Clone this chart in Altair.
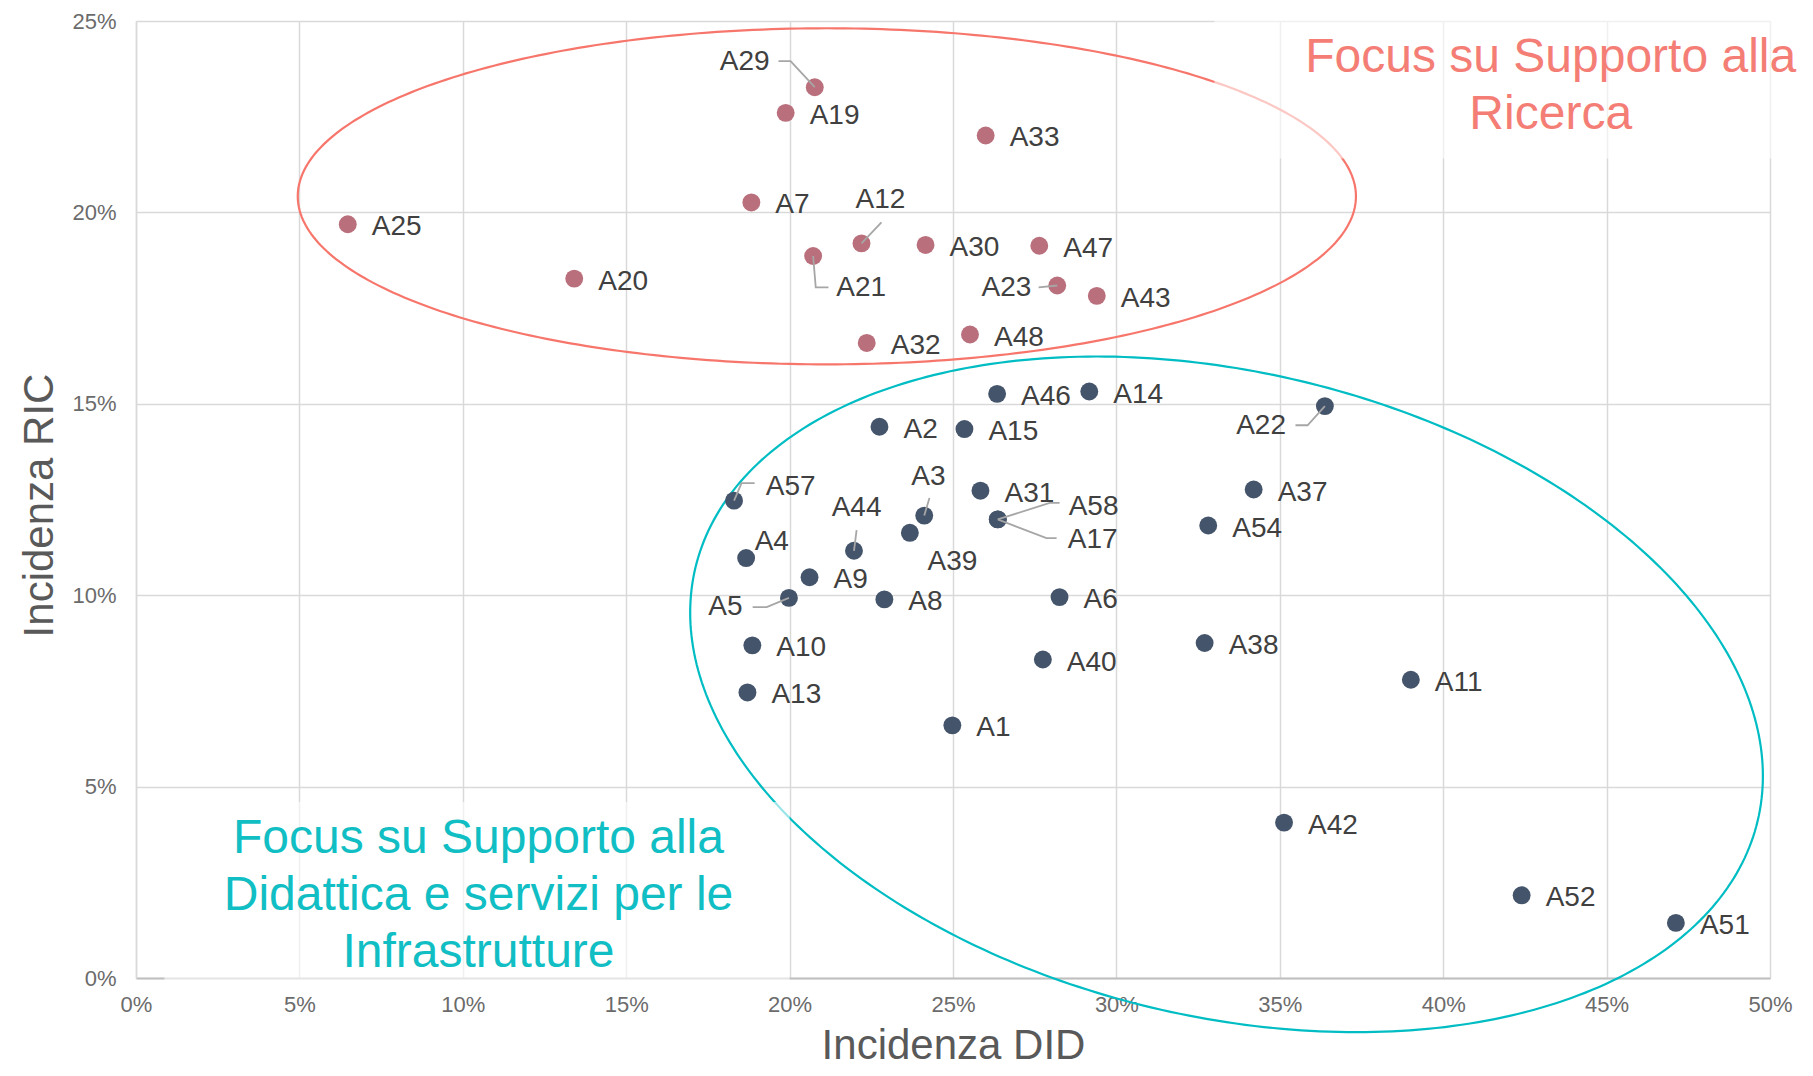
import altair as alt
import numpy as np
import pandas as pd

# ---------------- data ----------------
names = ["A29", "A19", "A33", "A7", "A25", "A12", "A30", "A47", "A21", "A20", "A23", "A43", "A48", "A32",
         "A46", "A14", "A22", "A2", "A15", "A57", "A31", "A37", "A3", "A58", "A17", "A39", "A44", "A54",
         "A4", "A9", "A5", "A8", "A6", "A10", "A38", "A40", "A11", "A13", "A1", "A42", "A52", "A51"]
did = [20.77, 19.88, 26.00, 18.83, 6.48, 22.20, 24.16, 27.64, 20.72, 13.41, 28.19, 29.40, 25.52, 22.36,
       26.35, 29.17, 36.38, 22.75, 25.35, 18.30, 25.84, 34.20, 24.12, 26.37, 26.37, 23.68, 21.97, 32.81,
       18.67, 20.61, 19.98, 22.90, 28.26, 18.86, 32.70, 27.75, 39.01, 18.71, 24.98, 35.13, 42.40, 47.12]
ric = [23.27, 22.60, 22.01, 20.26, 19.69, 19.19, 19.15, 19.13, 18.86, 18.27, 18.09, 17.82, 16.81, 16.59,
       15.26, 15.32, 14.94, 14.40, 14.34, 12.47, 12.73, 12.76, 12.08, 11.98, 11.98, 11.63, 11.16, 11.82,
       10.97, 10.47, 9.93, 9.89, 9.95, 8.69, 8.75, 8.32, 7.79, 7.46, 6.60, 4.06, 2.16, 1.44]
groups = ["RIC"] * 14 + ["DID"] * 28

# labels placed away from the default right-hand position: (x, y, align)
special_labels = {
    "A29": (19.39, 23.92, "right"),
    "A12": (22.78, 20.32, "center"),
    "A21": (21.43, 18.02, "left"),
    "A23": (27.40, 18.02, "right"),
    "A22": (35.19, 14.42, "right"),
    "A57": (19.27, 12.83, "left"),
    "A4": (18.93, 11.39, "left"),
    "A44": (22.05, 12.28, "center"),
    "A3": (24.25, 13.09, "center"),
    "A39": (24.22, 10.87, "left"),
    "A58": (28.54, 12.30, "left"),
    "A17": (28.51, 11.44, "left"),
    "A5": (18.56, 9.69, "right"),
}
# leader line elbows (from label towards the point)
leaders = {
    "A29": [(19.66, 23.95), (20.03, 23.95)],
    "A12": [(22.81, 19.74)],
    "A21": [(21.19, 18.04), (20.80, 18.04)],
    "A23": [(27.62, 18.04)],
    "A22": [(35.48, 14.44), (35.85, 14.44)],
    "A57": [(18.93, 12.93), (18.53, 12.93)],
    "A44": [(22.05, 11.70)],
    "A3": [(24.28, 12.54)],
    "A58": [(28.26, 12.41), (27.96, 12.41)],
    "A17": [(28.17, 11.49), (27.86, 11.49)],
    "A5": [(18.87, 9.69), (19.30, 9.69)],
}

focus_texts = ["Focus su Supporto alla\nRicerca",
               "Focus su Supporto alla\nDidattica e servizi per le\nInfrastrutture"]
focus_x = [43.29, 10.48]
focus_y = [24.04, 3.62]

x_ticks = [0, 5, 10, 15, 20, 25, 30, 35, 40, 45, 50]
y_ticks = [0, 5, 10, 15, 20, 25]

# ellipse annotations
red_ell = dict(cx=21.14, cy=20.42, rx=16.19, ry=4.39)
cyan_ell = dict(cx=33.37, cy=7.41, a_px=546.0, b_px=322.0, angle=13.4)

# ---------------- layout ----------------
W, H = 1634, 957
XMAX, YMAX = 50, 25
PXX, PXY = W / XMAX, H / YMAX
FONT = "Liberation Sans"

pts = pd.DataFrame({"name": names, "x": did, "y": ric, "group": groups})

norm = pts[~pts["name"].isin(special_labels.keys())]
spec = pd.DataFrame([{"name": k, "x": v[0], "y": v[1], "align": v[2]} for k, v in special_labels.items()])

rows = []
for n, elb in leaders.items():
    i = names.index(n)
    path = list(elb) + [(did[i], ric[i])]
    for j, (lx, ly) in enumerate(path):
        rows.append({"name": n, "o": j, "x": lx, "y": ly})
lead_df = pd.DataFrame(rows)

t = np.linspace(0, 2 * np.pi, 361)
red_df = pd.DataFrame({"o": np.arange(len(t)),
                       "x": red_ell["cx"] + red_ell["rx"] * np.cos(t),
                       "y": red_ell["cy"] + red_ell["ry"] * np.sin(t)})
th = np.radians(cyan_ell["angle"])
Xp = cyan_ell["a_px"] * np.cos(t) * np.cos(th) - cyan_ell["b_px"] * np.sin(t) * np.sin(th)
Yp = cyan_ell["a_px"] * np.cos(t) * np.sin(th) + cyan_ell["b_px"] * np.sin(t) * np.cos(th)
cyan_df = pd.DataFrame({"o": np.arange(len(t)),
                        "x": cyan_ell["cx"] + Xp / PXX,
                        "y": cyan_ell["cy"] - Yp / PXY})

boxes = pd.DataFrame({"x": [33.0, 0.87], "x2": [51.5, 20.0], "y": [21.41, -0.07], "y2": [25.8, 4.6]})
focus_df = pd.DataFrame({"text": focus_texts, "x": focus_x, "y": focus_y, "c": ["r", "c"]})

xs = alt.Scale(domain=[0, XMAX], nice=False, zero=False)
ys = alt.Scale(domain=[0, YMAX], nice=False, zero=False)
xaxis = alt.Axis(values=x_ticks, labelExpr="datum.value + '%'", title="Incidenza DID",
                 grid=True, gridColor="#D9D9D9", gridWidth=1.5, labelFlush=False,
                 domainColor="#BFBFBF", domainWidth=2, ticks=False, tickSize=0,
                 labelPadding=16, labelFontSize=22, labelColor="#6B6B6B", labelFont=FONT,
                 titleFont=FONT, titleFontSize=42, titleFontWeight="normal", titleColor="#595959",
                 titleX=W / 2, titleY=80, titleBaseline="alphabetic")
yaxis = alt.Axis(values=y_ticks, labelExpr="datum.value + '%'", title="Incidenza RIC",
                 grid=True, gridColor="#D9D9D9", gridWidth=1.5, labelFlush=False,
                 domainColor="#D9D9D9", domainWidth=1.5, ticks=False, tickSize=0,
                 labelPadding=20, labelFontSize=22, labelColor="#6B6B6B", labelFont=FONT,
                 titleFont=FONT, titleFontSize=42, titleFontWeight="normal", titleColor="#595959",
                 titleX=-84, titleY=484, titleAngle=270, titleBaseline="alphabetic")

X = alt.X("x:Q", scale=xs, axis=xaxis)
Y = alt.Y("y:Q", scale=ys, axis=yaxis)

red_line = alt.Chart(red_df).mark_line(color="#F7766C", strokeWidth=2.2).encode(x=X, y=Y, order="o:Q")
cyan_line = alt.Chart(cyan_df).mark_line(color="#00BDC4", strokeWidth=2.2).encode(x=X, y=Y, order="o:Q")

box_layer = alt.Chart(boxes).mark_rect(fill="white", opacity=0.6).encode(x=X, x2="x2:Q", y=Y, y2="y2:Q")

point_layer = alt.Chart(pts).mark_circle(size=320, opacity=1).encode(
    x=X, y=Y,
    color=alt.Color("group:N", scale=alt.Scale(domain=["RIC", "DID"], range=["#B96F7C", "#44546A"]), legend=None))

lead_layer = alt.Chart(lead_df).mark_line(color="#A6A6A6", strokeWidth=1.8).encode(
    x=X, y=Y, detail="name:N", order="o:Q")

lab_style = dict(baseline="middle", fontSize=28, font=FONT, color="#404040")
norm_lab = alt.Chart(norm).mark_text(align="left", dx=24, dy=3, **lab_style).encode(x=X, y=Y, text="name:N")
spec_layers = [
    alt.Chart(spec[spec["align"] == a]).mark_text(align=a, **lab_style).encode(x=X, y=Y, text="name:N")
    for a in ["left", "right", "center"]
]

focus_style = dict(align="center", baseline="middle", fontSize=48, font=FONT, lineBreak="\n", lineHeight=57)
focus_red = alt.Chart(focus_df[focus_df["c"] == "r"]).mark_text(color="#F47E76", **focus_style).encode(
    x=X, y=Y, text="text:N")
focus_cyan = alt.Chart(focus_df[focus_df["c"] == "c"]).mark_text(color="#10BEC4", **focus_style).encode(
    x=X, y=Y, text="text:N")

chart = alt.layer(
    red_line, cyan_line, box_layer, point_layer, lead_layer, norm_lab, *spec_layers, focus_red, focus_cyan
).properties(
    width=W, height=H,
    autosize=alt.AutoSizeParams(type="none"),
    padding={"left": 128, "top": 13, "right": 35, "bottom": 90},
    background="white",
).configure_view(strokeWidth=0)

chart.save("out.html", embed_options={"renderer": "svg", "actions": False})
